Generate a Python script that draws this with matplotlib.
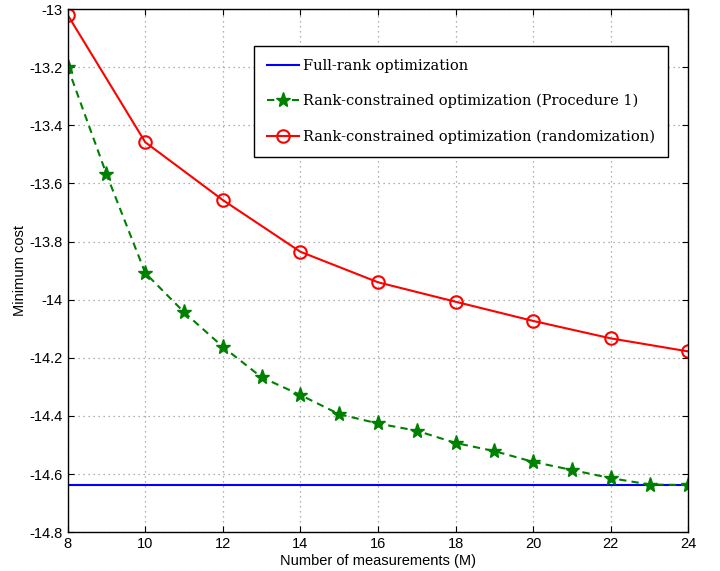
import matplotlib
matplotlib.use("Agg")
import matplotlib.pyplot as plt

M_full = [8, 24]
full_rank = [-14.637, -14.637]

M_proc = [8, 9, 10, 11, 12, 13, 14, 15, 16, 17, 18, 19, 20, 21, 22, 23, 24]
proc1 = [-13.200, -13.568, -13.908, -14.043, -14.162, -14.267, -14.328, -14.394,
         -14.426, -14.451, -14.493, -14.521, -14.558, -14.586, -14.614, -14.636, -14.638]

M_rand = [8, 10, 12, 14, 16, 18, 20, 22, 24]
rand = [-13.020, -13.458, -13.657, -13.835, -13.940, -14.007, -14.073, -14.133, -14.178]

xticks = [8, 10, 12, 14, 16, 18, 20, 22, 24]
yticks = [-14.8, -14.6, -14.4, -14.2, -14, -13.8, -13.6, -13.4, -13.2, -13]
ytick_labels = ['-14.8', '-14.6', '-14.4', '-14.2', '-14', '-13.8', '-13.6', '-13.4', '-13.2', '-13']

plt.rcParams['font.family'] = ['Liberation Sans', 'DejaVu Sans']

fig = plt.figure(figsize=(7.2, 5.71), dpi=100)
ax = fig.add_axes([0.094, 0.068, 0.862, 0.916])

ax.plot(M_full, full_rank, '-', color='blue', lw=1.5, label='Full-rank optimization')
ax.plot(M_proc, proc1, color='green', lw=1.5, linestyle=(0, (3.5, 2.5)), marker='*', markersize=11,
        markerfacecolor='green', markeredgecolor='green',
        label='Rank-constrained optimization (Procedure 1)')
ax.plot(M_rand, rand, '-', color='red', lw=1.5, marker='o', markersize=9,
        markerfacecolor='none', markeredgecolor='red', markeredgewidth=1.5,
        label='Rank-constrained optimization (randomization)')

ax.set_xlim(8, 24)
ax.set_ylim(-14.8, -13)
ax.set_xticks(xticks)
ax.set_yticks(yticks)
ax.set_yticklabels(ytick_labels)
ax.tick_params(direction='in', top=True, right=True, labelsize=10.5, length=4)
ax.grid(True, linestyle=(0, (1, 3)), color='#999999', lw=0.9)
ax.set_axisbelow(True)
for s in ax.spines.values():
    s.set_linewidth(1.0)

ax.set_xlabel('Number of measurements (M)', fontsize=10.5, labelpad=2)
ax.set_ylabel('Minimum cost', fontsize=10.5, labelpad=2)

leg = ax.legend(loc='upper right', bbox_to_anchor=(0.968, 0.93),
                prop={'family': 'DejaVu Serif', 'size': 10.5},
                frameon=True, fancybox=False, edgecolor='black', framealpha=1,
                borderpad=0.9, labelspacing=1.45, handlelength=2.2,
                handletextpad=0.3, borderaxespad=0.0)
leg.get_frame().set_linewidth(1.0)

fig.savefig('out.png', dpi=100)
